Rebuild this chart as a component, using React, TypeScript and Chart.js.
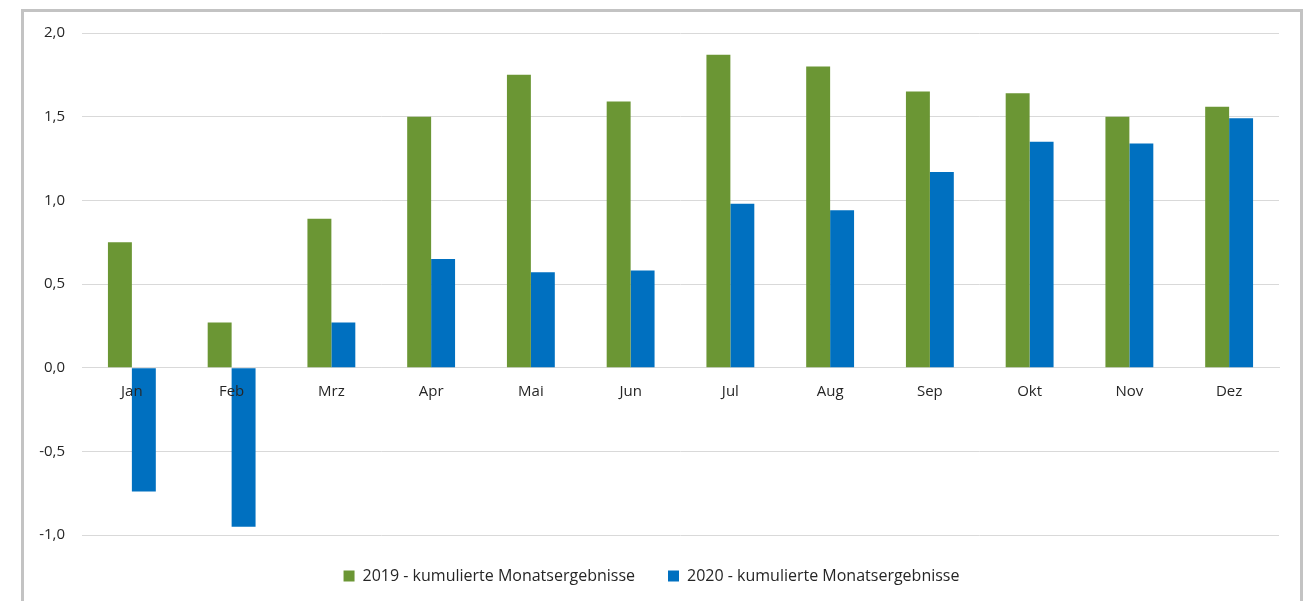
import React, { useEffect, useRef } from "react";
import { Chart, registerables } from "chart.js";

Chart.register(...registerables);

// Monthly cumulative results per year
const months = ["Jan", "Feb", "Mrz", "Apr", "Mai", "Jun", "Jul", "Aug", "Sep", "Okt", "Nov", "Dez"];
const values2019 = [0.75, 0.27, 0.89, 1.5, 1.75, 1.59, 1.87, 1.8, 1.65, 1.64, 1.5, 1.56];
const values2020 = [-0.74, -0.95, 0.27, 0.65, 0.57, 0.58, 0.98, 0.94, 1.17, 1.35, 1.34, 1.49];
const seriesLabels = ["2019 - kumulierte Monatsergebnisse", "2020 - kumulierte Monatsergebnisse"];

const GREEN = "#6B9634";
const BLUE = "#0070C0";
const GRID = "#D9D9D9";
const TEXT = "#262626";
const FONT = "'Open Sans', 'Noto Sans', sans-serif";

export default function App() {
  const canvasRef = useRef<HTMLCanvasElement | null>(null);

  useEffect(() => {
    const canvas = canvasRef.current;
    if (!canvas) return;
    const chart = new Chart(canvas, {
      type: "bar",
      data: {
        labels: months,
        datasets: [
          {
            label: seriesLabels[0],
            data: values2019,
            backgroundColor: GREEN,
            barPercentage: 1,
            categoryPercentage: 0.48,
          },
          {
            label: seriesLabels[1],
            data: values2020,
            backgroundColor: BLUE,
            barPercentage: 1,
            categoryPercentage: 0.48,
          },
        ],
      },
      options: {
        responsive: false,
        animation: false,
        layout: { padding: { top: 21, right: 21, left: 0, bottom: 7 } },
        plugins: {
          tooltip: { enabled: false },
          legend: {
            position: "bottom",
            labels: {
              boxWidth: 11,
              boxHeight: 11,
              padding: 33,
              color: TEXT,
              font: { family: FONT, size: 16 },
            },
          },
        },
        scales: {
          x: {
            position: { y: 0 },
            afterFit: (scale: any) => {
              scale.height = 0;
            },
            grid: { display: false, drawTicks: false },
            border: { display: true, color: GRID, width: 1 },
            ticks: {
              z: 1,
              color: TEXT,
              padding: 15,
              font: { family: FONT, size: 15 },
              maxRotation: 0,
            },
          },
          y: {
            min: -1,
            max: 2,
            afterFit: (scale: any) => {
              // fixed axis width; tick padding should not push the plot area down
              scale.width = 58;
              scale.paddingTop = 0;
              scale.paddingBottom = 0;
            },
            grid: { color: GRID, lineWidth: 1, drawTicks: false },
            border: { display: false },
            ticks: {
              stepSize: 0.5,
              padding: 17,
              color: TEXT,
              font: { family: FONT, size: 15 },
              callback: (v: any) => Number(v).toFixed(1).replace(".", ","),
            },
          },
        },
      },
    });
    return () => chart.destroy();
  }, []);

  return (
    <div
      style={{
        position: "absolute",
        left: 0,
        top: 0,
        width: 1316,
        height: 601,
        overflow: "hidden",
        background: "#ffffff",
      }}
    >
      <div
        style={{
          position: "absolute",
          left: 21,
          top: 9,
          width: 1282,
          height: 640,
          boxSizing: "border-box",
          border: "3px solid #C3C3C3",
          background: "#ffffff",
        }}
      >
        <canvas
          ref={canvasRef}
          width={1276}
          height={589}
          style={{ position: "absolute", left: 0, top: 0, width: 1276, height: 589 }}
        />
      </div>
    </div>
  );
}
